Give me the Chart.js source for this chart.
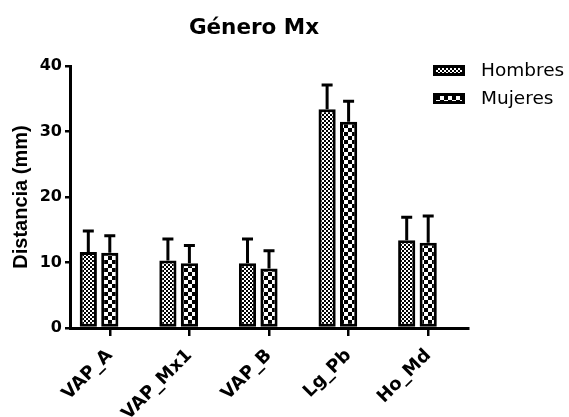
<!DOCTYPE html>
<html>
<head>
<meta charset="utf-8">
<script src="https://cdn.jsdelivr.net/npm/chart.js@4.4.1/dist/chart.umd.min.js"></script>
<style>
html, body { margin: 0; padding: 0; background: #fff; }
#wrap { width: 569px; height: 417px; }
</style>
</head>
<body>
<div id="wrap"><canvas id="chart"></canvas></div>
<script>
// Género Mx — distancia por sexo (media + DE)
const CATEGORIES = ['VAP_A', 'VAP_Mx1', 'VAP_B', 'Lg_Pb', 'Ho_Md'];
const HOMBRES_MEAN = [11.6, 10.3, 9.9, 33.4, 13.4];
const HOMBRES_SD = [3.2, 3.3, 3.7, 3.7, 3.5];
const MUJERES_MEAN = [11.5, 9.9, 9.1, 31.5, 13.0];
const MUJERES_SD = [2.6, 2.7, 2.7, 3.1, 4.1];
const Y_TICKS = [0, 10, 20, 30, 40];
const TITLE = 'Género Mx';

// tramas de relleno tipo Prism
function makePattern(size, draw) {
    const c = document.createElement('canvas');
    c.width = size;
    c.height = size;
    const g = c.getContext('2d');
    draw(g);
    return g.createPattern(c, 'repeat');
}

const patHombres = makePattern(4, g => {
    g.fillStyle = '#fff';
    g.fillRect(0, 0, 4, 4);
    g.fillStyle = '#000';
    g.fillRect(0, 0, 2, 2);
    g.fillRect(2, 2, 2, 2);
});

const patMujeres = makePattern(8, g => {
    g.fillStyle = '#000';
    g.fillRect(0, 0, 8, 8);
    g.fillStyle = '#fff';
    g.fillRect(0, 0, 4, 4);
    g.fillRect(4, 4, 4, 4);
});

// barras de error (solo hacia arriba)
const errorBars = {
    id: 'errorBars',
    afterDatasetsDraw(chart) {
        const { ctx } = chart;
        const y = chart.scales.y;
        ctx.save();
        ctx.strokeStyle = '#000';
        ctx.lineWidth = 3;
        chart.data.datasets.forEach((ds, di) => {
            if (!ds.sd) return;
            chart.getDatasetMeta(di).data.forEach((bar, i) => {
                const top = y.getPixelForValue(ds.data[i] + ds.sd[i]);
                ctx.beginPath();
                ctx.moveTo(bar.x, bar.y);
                ctx.lineTo(bar.x, top);
                ctx.moveTo(bar.x - 5.5, top);
                ctx.lineTo(bar.x + 5.5, top);
                ctx.stroke();
            });
        });
        ctx.restore();
    },
};

// título y leyenda (la leyenda va encima del área del gráfico, arriba a la derecha)
const decorations = {
    id: 'decorations',
    afterDraw(chart) {
        const { ctx } = chart;
        ctx.save();
        ctx.fillStyle = '#000';
        ctx.textAlign = 'center';
        ctx.textBaseline = 'middle';
        ctx.font = 'bold 21.5px "DejaVu Sans"';
        ctx.fillText(TITLE, 254, 28);

        ctx.textAlign = 'left';
        ctx.font = '18.5px "DejaVu Sans"';
        chart.data.datasets.filter(ds => ds.label).forEach((ds, i) => {
            const bx = 433, by = 65 + i * 28;
            ctx.fillStyle = ds.backgroundColor;
            ctx.fillRect(bx, by, 32, 11);
            ctx.strokeStyle = '#000';
            ctx.lineWidth = 3;
            ctx.strokeRect(bx + 1.5, by + 1.5, 29, 8);
            ctx.fillStyle = '#000';
            ctx.fillText(ds.label, 481, by + 6);
        });
        ctx.restore();
    },
};

Chart.defaults.font.family = '"DejaVu Sans", sans-serif';
Chart.defaults.color = '#000';

new Chart(document.getElementById('chart'), {
    type: 'bar',
    data: {
        labels: CATEGORIES,
        datasets: [
            {
                label: 'Hombres',
                data: HOMBRES_MEAN,
                sd: HOMBRES_SD,
                backgroundColor: patHombres,
                borderColor: '#000',
                borderWidth: 3,
                borderSkipped: false,
                categoryPercentage: 0.81,
                barPercentage: 0.8,
            },
            {
                label: 'Mujeres',
                data: MUJERES_MEAN,
                sd: MUJERES_SD,
                backgroundColor: patMujeres,
                borderColor: '#000',
                borderWidth: 3,
                borderSkipped: false,
                categoryPercentage: 0.81,
                barPercentage: 0.8,
            },
            {
                // hueco vacío: deja el tick bajo la barra de Mujeres, como en Prism
                label: '',
                data: CATEGORIES.map(() => null),
                categoryPercentage: 0.81,
                barPercentage: 0.8,
            },
        ],
    },
    options: {
        responsive: true,
        maintainAspectRatio: false,
        animation: false,
        events: [],
        layout: { padding: { left: 0, right: 101, top: 66, bottom: 0 } },
        scales: {
            x: {
                offset: true,
                grid: {
                    offset: false,
                    drawOnChartArea: false,
                    color: '#000',
                    lineWidth: 2.5,
                    tickLength: 8,
                },
                border: { color: '#000', width: 3 },
                ticks: {
                    color: '#000',
                    font: { size: 18, weight: 'bold' },
                    minRotation: 45,
                    maxRotation: 45,
                    padding: 9,
                },
                afterFit(scale) { scale.height = 89; },
            },
            y: {
                min: Y_TICKS[0],
                max: Y_TICKS[Y_TICKS.length - 1],
                afterBuildTicks(scale) { scale.ticks = Y_TICKS.map(v => ({ value: v })); },
                grid: {
                    drawOnChartArea: false,
                    color: '#000',
                    lineWidth: 2.5,
                    tickLength: 5,
                },
                border: { color: '#000', width: 3 },
                ticks: {
                    color: '#000',
                    font: { size: 16, weight: 'bold' },
                    padding: 3,
                },
                title: {
                    display: true,
                    text: 'Distancia (mm)',
                    color: '#000',
                    font: { family: '"Liberation Sans", Arial, sans-serif', size: 20, weight: 'bold' },
                    padding: { top: 9, bottom: 0 },
                },
                afterFit(scale) { scale.width = 70; },
            },
        },
        plugins: {
            legend: { display: false },
            tooltip: { enabled: false },
            title: { display: false },
        },
    },
    plugins: [errorBars, decorations],
});
</script>
</body>
</html>
